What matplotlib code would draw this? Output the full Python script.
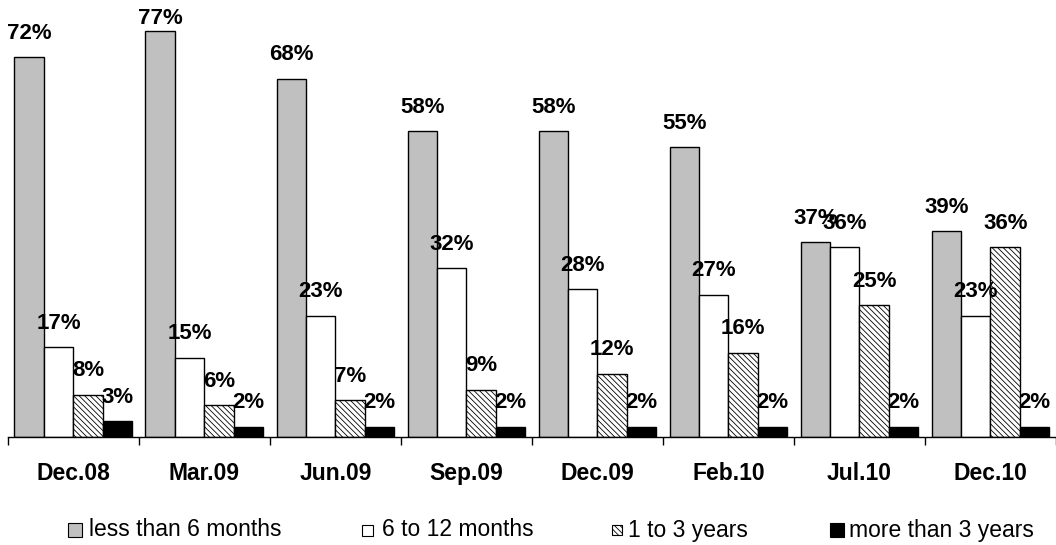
import matplotlib.pyplot as plt
from matplotlib.patches import Rectangle
import numpy as np

periods = ['Dec.08', 'Mar.09', 'Jun.09', 'Sep.09', 'Dec.09', 'Feb.10', 'Jul.10', 'Dec.10']
series_names = ['less than 6 months', '6 to 12 months', '1 to 3 years', 'more than 3 years']
less_6m = [72, 77, 68, 58, 58, 55, 37, 39]
m6_12 = [17, 15, 23, 32, 28, 27, 36, 23]
y1_3 = [8, 6, 7, 9, 12, 16, 25, 36]
over_3y = [3, 2, 2, 2, 2, 2, 2, 2]

plt.rcParams['font.family'] = ['Liberation Sans', 'DejaVu Sans']
plt.rcParams['hatch.linewidth'] = 0.6
plt.rcParams['hatch.color'] = '#303030'

styles = [
    dict(facecolor='#c0c0c0', hatch=None),
    dict(facecolor='white', hatch=None),
    dict(facecolor='white', hatch='\\' * 6),
    dict(facecolor='black', hatch=None),
]
values = [less_6m, m6_12, y1_3, over_3y]

fig = plt.figure(figsize=(10.56, 5.45), dpi=100)
ax = fig.add_axes([0, 0.198, 1, 0.802])
ymax = 82.9
px_per_unit = 437 / ymax

x = np.arange(len(periods))
w = 0.225
offsets = (np.arange(4) - 1.5) * w
for vals, st, off in zip(values, styles, offsets):
    bars = ax.bar(x + off, vals, w, edgecolor='black', linewidth=1.0, **st)
    for b, v in zip(bars, vals):
        # label sits above the bar, but is kept inside the plot area
        ly = min(v + 24 / px_per_unit, ymax - 18 / px_per_unit)
        ax.text(b.get_x() + b.get_width() / 2, ly, f'{v}%',
                ha='center', va='center', fontsize=16, fontweight='bold')

ax.set_xlim(-0.5 - 8 / 132, -0.5 + 1048 / 132)
ax.set_ylim(0, ymax)
for s in ['top', 'right', 'left']:
    ax.spines[s].set_visible(False)
ax.spines['bottom'].set_bounds(-0.5, 8)
ax.spines['bottom'].set_linewidth(1.0)
ax.set_yticks([])
ax.set_xticks(x)
ax.set_xticklabels(periods, fontsize=16.5, fontweight='bold')
ax.tick_params(axis='x', which='major', length=0, pad=18)
ax.set_xticks(np.arange(len(periods) + 1) - 0.5, minor=True)
ax.tick_params(axis='x', which='minor', length=6, width=1.0, direction='out')

# legend row along the bottom
leg_x = [68, 362, 612, 830]
leg_text_x = [89, 382, 628, 849]
leg_box = [14, 11, 10, 14]
for px, tx, sz, name, st in zip(leg_x, leg_text_x, leg_box, series_names, styles):
    fig.add_artist(Rectangle((px / 1056, (15 - sz / 2) / 545), sz / 1056, sz / 545,
                             transform=fig.transFigure, edgecolor='black',
                             linewidth=0.8, **st))
    fig.text(tx / 1056, 15 / 545, name, fontsize=16.5, va='center', ha='left')

fig.savefig('out.png', dpi=100)
